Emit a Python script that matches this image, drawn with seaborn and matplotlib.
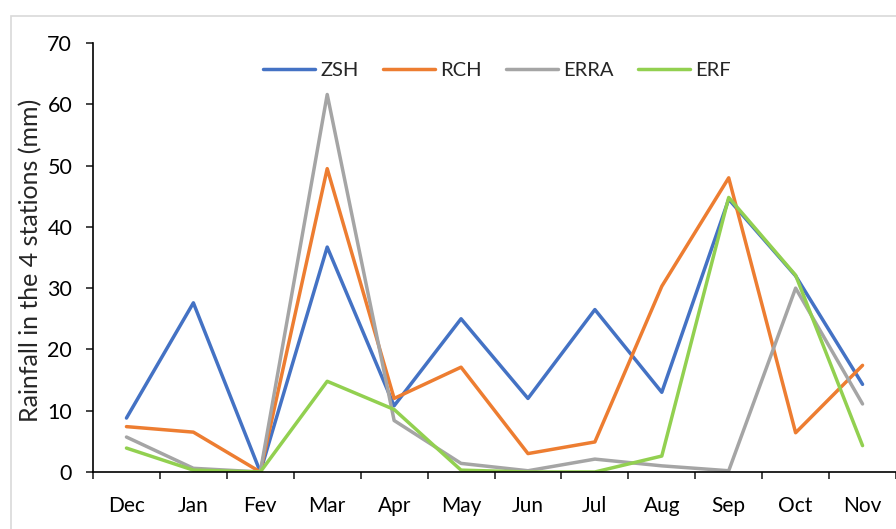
import matplotlib.pyplot as plt
import matplotlib.patches as mpatches
import pandas as pd
import seaborn as sns

months = ['Dec', 'Jan', 'Fev', 'Mar', 'Apr', 'May', 'Jun', 'Jul', 'Aug', 'Sep', 'Oct', 'Nov']
zsh = [8.8, 27.6, 0.0, 36.7, 10.8, 25.0, 12.0, 26.5, 13.0, 44.5, 32.0, 14.3]
rch = [7.4, 6.5, 0.0, 49.5, 12.0, 17.1, 3.0, 4.9, 30.3, 48.0, 6.4, 17.4]
erra = [5.7, 0.6, 0.0, 61.6, 8.4, 1.4, 0.2, 2.1, 1.0, 0.2, 30.0, 11.1]
erf = [3.9, 0.3, 0.0, 14.8, 10.2, 0.3, 0.0, 0.0, 2.6, 44.8, 32.1, 4.3]

stations = ['ZSH', 'RCH', 'ERRA', 'ERF']
colors = ['#4472C4', '#ED7D31', '#A5A5A5', '#92D050']

rows = []
for name, vals in zip(stations, [zsh, rch, erra, erf]):
    for i, v in enumerate(vals):
        rows.append({'month': i, 'rain': v, 'station': name})
df = pd.DataFrame(rows)

sns.set_style('ticks')
plt.rcParams['font.family'] = ['Lato', 'DejaVu Sans']

fig = plt.figure(figsize=(8.96, 5.29), dpi=100)
ax = fig.add_axes([0.1038, 0.1078, 0.8962, 0.8109])

# outer chart border like the spreadsheet frame
fig.patches.append(mpatches.Rectangle((11 / 896, -0.1), 1.1, 1 - 16 / 529 + 0.1,
                                      transform=fig.transFigure, fill=False,
                                      edgecolor='#D9D9D9', linewidth=1.2))

sns.lineplot(data=df, x='month', y='rain', hue='station', hue_order=stations,
             palette=colors, linewidth=2.5, ax=ax, legend=True)

ax.set_xlim(-0.5, 11.5)
ax.set_ylim(0, 70)
ax.set_yticks(range(0, 71, 10))
ax.set_xticks(range(12))
ax.set_xticklabels(months)
ax.set_xticks([i - 0.5 for i in range(13)], minor=True)
ax.tick_params(axis='x', which='major', length=0, pad=17, labelsize=15)
ax.tick_params(axis='x', which='minor', length=5, width=1.2, direction='out')
ax.tick_params(axis='y', length=5, width=1.2, labelsize=15.5, pad=10)
for lab in ax.get_xticklabels() + ax.get_yticklabels():
    lab.set_color('black')

ax.spines['top'].set_visible(False)
ax.spines['right'].set_visible(False)
for side in ['left', 'bottom']:
    ax.spines[side].set_linewidth(1.2)
    ax.spines[side].set_color('black')

ax.set_xlabel('')
ax.set_ylabel('Rainfall in the 4 stations (mm)', fontsize=18)
ax.yaxis.set_label_coords(-0.063, 0.494)

ax.legend(loc='center', bbox_to_anchor=(0.503, 0.935), ncol=4, frameon=False,
          fontsize=14.5, handlelength=2.6, handletextpad=0.25, columnspacing=1.2)

fig.savefig('out.png', dpi=100)
